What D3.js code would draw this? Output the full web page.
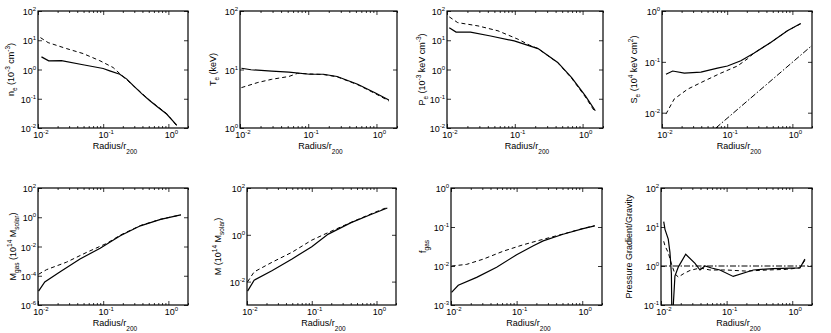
<!DOCTYPE html>
<html>
<head>
<meta charset="utf-8">
<script src="https://cdn.jsdelivr.net/npm/d3@7/dist/d3.min.js"></script>
<style>
  body { margin: 0; background: #fff; }
  svg text { font-family: "Liberation Sans", Arial, Helvetica, sans-serif; fill: #000; }
</style>
</head>
<body>
<svg id="fig" width="831" height="333"></svg>
<script>
// radius (r/r200) and values, one pair of arrays per curve

// electron density
var neSolidR = [0.0113, 0.0146, 0.0229, 0.049, 0.1, 0.126, 0.18, 0.23, 0.29, 0.39, 0.52, 0.70, 0.94, 1.34];
var neSolid  = [2.7, 1.97, 2.0, 1.45, 1.08, 0.9, 0.69, 0.47, 0.28, 0.15, 0.085, 0.05, 0.03, 0.0125];
var neDashR  = [0.0109, 0.0143, 0.0273, 0.0493, 0.0888, 0.142, 0.18, 0.29, 0.52, 0.94, 1.34];
var neDash   = [12.3, 8.3, 5.2, 3.5, 2.0, 1.17, 0.72, 0.28, 0.087, 0.031, 0.012];

// temperature
var teSolidR = [0.0105, 0.0145, 0.0292, 0.0521, 0.105, 0.167, 0.265, 0.53, 0.95, 1.52];
var teSolid  = [10.5, 9.9, 9.4, 9.0, 8.3, 8.3, 7.6, 5.6, 4.0, 3.0];
var teDashR  = [0.0105, 0.0183, 0.0292, 0.0521, 0.0697, 0.105, 0.167, 0.265, 0.53, 0.95, 1.52];
var teDash   = [4.9, 6.0, 6.8, 7.6, 8.6, 8.4, 8.2, 7.5, 5.5, 3.9, 2.9];

// pressure
var peSolidR = [0.0108, 0.0136, 0.0222, 0.044, 0.098, 0.22, 0.43, 0.69, 1.10, 1.54];
var peSolid  = [27, 19, 19, 14, 9.5, 5.2, 1.74, 0.53, 0.126, 0.039];
var peDashR  = [0.0108, 0.0144, 0.0286, 0.0565, 0.112, 0.167, 0.22, 0.43, 0.69, 1.10, 1.54];
var peDash   = [63, 40, 31, 21, 10.8, 6.7, 5.2, 1.7, 0.5, 0.115, 0.034];

// entropy
var seSolidR = [0.0115, 0.0146, 0.022, 0.0395, 0.071, 0.101, 0.162, 0.26, 0.465, 0.84, 1.34];
var seSolid  = [0.057, 0.066, 0.06, 0.063, 0.075, 0.083, 0.105, 0.15, 0.24, 0.41, 0.57];
var seDashR  = [0.0115, 0.0154, 0.0247, 0.0444, 0.08, 0.144, 0.205, 0.26, 0.465, 0.84, 1.34];
var seDash   = [0.0094, 0.0186, 0.029, 0.042, 0.06, 0.083, 0.115, 0.15, 0.24, 0.41, 0.56];
var seBaseR  = [0.067, 2.0];
var seBase   = [0.005, 0.21];

// gas mass
var mgSolidR = [0.0102, 0.0127, 0.0216, 0.0441, 0.0898, 0.183, 0.372, 0.76, 1.55];
var mgSolid  = [8.9e-6, 3.8e-5, 1.8e-4, 1.4e-3, 7.6e-3, 0.054, 0.26, 0.72, 1.44];
var mgDashR  = [0.0102, 0.0135, 0.0274, 0.056, 0.114, 0.183, 0.372, 0.76, 1.55];
var mgDash   = [1.26e-4, 2.6e-4, 8.5e-4, 4.0e-3, 0.0166, 0.06, 0.27, 0.73, 1.45];

// total mass
var mtSolidR = [0.0102, 0.0129, 0.0246, 0.0496, 0.1, 0.18, 0.405, 0.82, 1.47];
var mtSolid  = [0.0039, 0.0115, 0.030, 0.093, 0.31, 1.07, 3.3, 7.4, 14];
var mtDashR  = [0.0102, 0.0129, 0.0246, 0.0496, 0.1, 0.18, 0.405, 0.82, 1.47];
var mtDash   = [0.0098, 0.026, 0.068, 0.18, 0.59, 1.25, 3.4, 7.8, 15];

// gas fraction
var fgSolidR = [0.0102, 0.0129, 0.0246, 0.0496, 0.1, 0.18, 0.254, 0.51, 1.03, 1.55];
var fgSolid  = [0.0021, 0.0032, 0.0051, 0.0093, 0.0195, 0.033, 0.044, 0.065, 0.091, 0.107];
var fgDashR  = [0.0102, 0.0173, 0.031, 0.0626, 0.126, 0.227, 0.51, 1.03, 1.55];
var fgDash   = [0.01, 0.011, 0.015, 0.024, 0.035, 0.046, 0.066, 0.092, 0.108];

// pressure gradient / gravity
var hbSolidR = [0.011, 0.0115, 0.0129, 0.0137, 0.0144, 0.0147, 0.0151, 0.0154, 0.0163, 0.0184, 0.0238,
                0.033, 0.0393, 0.0468, 0.059, 0.079, 0.126, 0.255, 0.51, 1.31, 1.56];
var hbSolid  = [13.7, 8.7, 4.9, 2.2, 0.63, 0.03, 0.03, 0.1, 0.55, 0.95, 2.0,
                1.17, 0.79, 1.0, 0.89, 0.79, 0.54, 0.79, 0.86, 0.89, 1.5];
var hbDashR  = [0.011, 0.0115, 0.0129, 0.0145, 0.0163, 0.0184, 0.0219, 0.0277, 0.0393, 0.0557,
                0.1, 0.2, 0.41, 0.82, 1.31, 1.56];
var hbDash   = [4.3, 3.3, 2.2, 1.1, 0.63, 0.52, 0.63, 0.77, 0.89, 0.79, 0.79, 0.74, 0.79, 0.82, 0.9, 1.4];
var hbOneR   = [0.01, 2.0];
var hbOne    = [1, 1];

var xTicks = [0.01, 0.1, 1];
var xMinor = [0.02, 0.03, 0.04, 0.05, 0.06, 0.07, 0.08, 0.09, 0.2, 0.3, 0.4, 0.5, 0.6, 0.7, 0.8, 0.9, 2];

var panels = [
  { x0: 38, x1: 188, y0: 11, y1: 128, dom: [1e-2, 1e2], ticks: [-2, -1, 0, 1, 2], lx: 14,
    label: [['n'], ['e', 'sub'], [' (10'], ['-3', 'sup'], [' cm'], ['-3', 'sup'], [')']],
    series: [[neSolidR, neSolid, 's'], [neDashR, neDash, 'd']] },
  { x0: 240, x1: 397, y0: 11, y1: 128, dom: [1, 1e2], ticks: [0, 1, 2], lx: 216,
    label: [['T'], ['e', 'sub'], [' (keV)']],
    series: [[teSolidR, teSolid, 's'], [teDashR, teDash, 'd']] },
  { x0: 447, x1: 603, y0: 11, y1: 128, dom: [1e-2, 1e2], ticks: [-2, -1, 0, 1, 2], lx: 425,
    label: [['P'], ['e', 'sub'], [' (10'], ['-3', 'sup'], [' keV cm'], ['-3', 'sup'], [')']],
    series: [[peSolidR, peSolid, 's'], [peDashR, peDash, 'd']] },
  { x0: 662, x1: 812, y0: 11, y1: 128, dom: [0.005, 1], ticks: [-2, -1, 0], lx: 637,
    label: [['S'], ['e', 'sub'], [' (10'], ['4', 'sup'], [' keV cm'], ['2', 'sup'], [')']],
    series: [[seSolidR, seSolid, 's'], [seDashR, seDash, 'd'], [seBaseR, seBase, 'dd']] },
  { x0: 38, x1: 188, y0: 188, y1: 305, dom: [1e-6, 1e2], ticks: [-6, -4, -2, 0, 2], lx: 16,
    label: [['M'], ['gas', 'sub'], [' (10'], ['14', 'sup'], [' M'], ['solar', 'sub'], [')']],
    series: [[mgSolidR, mgSolid, 's'], [mgDashR, mgDash, 'd']] },
  { x0: 247, x1: 396, y0: 188, y1: 305, dom: [1e-3, 1e2], ticks: [-2, 0, 2], lx: 221,
    label: [['M (10'], ['14', 'sup'], [' M'], ['solar', 'sub'], [')']],
    series: [[mtSolidR, mtSolid, 's'], [mtDashR, mtDash, 'd']] },
  { x0: 451, x1: 602, y0: 188, y1: 305, dom: [1e-3, 1], ticks: [-3, -2, -1, 0], lx: 426,
    label: [['f'], ['gas', 'sub']],
    series: [[fgSolidR, fgSolid, 's'], [fgDashR, fgDash, 'd']] },
  { x0: 661, x1: 812, y0: 188, y1: 305, dom: [0.1, 100], ticks: [-1, 0, 1, 2], lx: 632,
    label: [['Pressure Gradient/Gravity']],
    series: [[hbSolidR, hbSolid, 's'], [hbDashR, hbDash, 'd'], [hbOneR, hbOne, 'dd']] }
];

var svg = d3.select('#fig');

function rich(sel, parts, small) {
  parts.forEach(function (pt) {
    var t = sel.append('tspan').text(pt[0]);
    if (pt[1] === 'sup') t.attr('baseline-shift', 4).attr('font-size', small);
    if (pt[1] === 'sub') t.attr('baseline-shift', -3).attr('font-size', small);
  });
}

function pow10(sel, e) {
  rich(sel, [['10'], [String(e), 'sup']], 6);
}

panels.forEach(function (p, i) {
  var x = d3.scaleLog().domain([0.01, 2]).range([p.x0, p.x1]);
  var y = d3.scaleLog().domain(p.dom).range([p.y1, p.y0]);
  var g = svg.append('g');

  g.append('clipPath').attr('id', 'clip' + i)
    .append('rect').attr('x', p.x0).attr('y', p.y0)
    .attr('width', p.x1 - p.x0).attr('height', p.y1 - p.y0);

  var line = d3.line()
    .x(function (d) { return x(d[0]); })
    .y(function (d) { return y(d[1]); });

  p.series.forEach(function (s) {
    g.append('path')
      .datum(d3.zip(s[0], s[1]))
      .attr('clip-path', 'url(#clip' + i + ')')
      .attr('d', line)
      .attr('fill', 'none')
      .attr('stroke', '#000')
      .attr('stroke-width', s[2] === 's' ? 1.2 : 1)
      .attr('stroke-dasharray', s[2] === 'd' ? '4,3' : (s[2] === 'dd' ? '6,2,1.5,2' : null));
  });

  // inward ticks on all four sides, matlab style
  var yVals = p.ticks.map(function (e) { return Math.pow(10, e); });
  var axes = [
    [d3.axisBottom(x).tickValues(xTicks).tickSize(-4), 'translate(0,' + p.y1 + ')'],
    [d3.axisTop(x).tickValues(xTicks).tickSize(-4), 'translate(0,' + p.y0 + ')'],
    [d3.axisBottom(x).tickValues(xMinor).tickSize(-2), 'translate(0,' + p.y1 + ')'],
    [d3.axisTop(x).tickValues(xMinor).tickSize(-2), 'translate(0,' + p.y0 + ')'],
    [d3.axisLeft(y).tickValues(yVals).tickSize(-4), 'translate(' + p.x0 + ',0)'],
    [d3.axisRight(y).tickValues(yVals).tickSize(-4), 'translate(' + p.x1 + ',0)']
  ];
  axes.forEach(function (a) {
    var ax = g.append('g').attr('transform', a[1])
      .call(a[0].tickFormat('').tickSizeOuter(0));
    ax.select('.domain').remove();
    ax.selectAll('line').attr('stroke', '#000').attr('stroke-width', 0.8);
  });

  g.append('rect')
    .attr('x', p.x0).attr('y', p.y0)
    .attr('width', p.x1 - p.x0).attr('height', p.y1 - p.y0)
    .attr('fill', 'none').attr('stroke', '#000').attr('stroke-width', 1.2);

  // tick labels
  xTicks.forEach(function (v) {
    var t = g.append('text').attr('x', x(v) + 3).attr('y', p.y1 + 10)
      .attr('text-anchor', 'middle').attr('font-size', 9);
    pow10(t, Math.round(Math.log10(v)));
  });
  p.ticks.forEach(function (e) {
    var t = g.append('text').attr('x', p.x0 - 2).attr('y', y(Math.pow(10, e)) + 4)
      .attr('text-anchor', 'end').attr('font-size', 9);
    pow10(t, e);
  });

  var xl = g.append('text').attr('x', (p.x0 + p.x1) / 2 + 2).attr('y', p.y1 + 21)
    .attr('text-anchor', 'middle').attr('font-size', 9);
  xl.append('tspan').text('Radius/r');
  xl.append('tspan').attr('baseline-shift', -5).attr('font-size', 6.5).text('200');

  var yl = g.append('text')
    .attr('transform', 'translate(' + p.lx + ',' + (p.y0 + p.y1) / 2 + ') rotate(-90)')
    .attr('text-anchor', 'middle').attr('font-size', 9);
  rich(yl, p.label, 6.5);
});
</script>
</body>
</html>
